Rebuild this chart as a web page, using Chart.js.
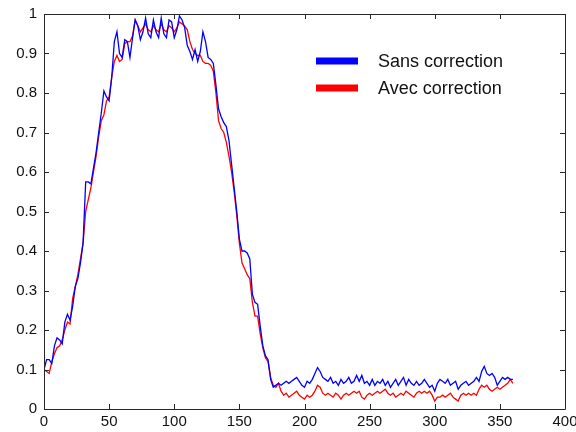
<!DOCTYPE html>
<html>
<head>
<meta charset="utf-8">
<script src="https://cdn.jsdelivr.net/npm/chart.js@4"></script>
<style>
  html, body { margin: 0; padding: 0; background: #fff; }
  #wrap { width: 576px; height: 432px; }
</style>
</head>
<body>
<div id="wrap"><canvas id="chart" width="576" height="432"></canvas></div>
<script>
// samples every 2 units, x = 0..360
const xStep = 2;
const sansCorrection = [
  0.10, 0.125, 0.125, 0.115, 0.16, 0.18, 0.175, 0.165, 0.22, 0.24,
  0.225, 0.26, 0.31, 0.33, 0.37, 0.42, 0.575, 0.575, 0.57, 0.61,
  0.65, 0.70, 0.75, 0.805, 0.79, 0.78, 0.84, 0.93, 0.955, 0.90,
  0.89, 0.935, 0.93, 0.89, 0.94, 0.985, 0.97, 0.935, 0.955, 0.99,
  0.95, 0.94, 0.985, 0.955, 0.94, 0.99, 0.95, 0.94, 0.985, 0.98,
  0.94, 0.96, 0.995, 0.985, 0.965, 0.92, 0.905, 0.885, 0.91, 0.88,
  0.905, 0.955, 0.93, 0.89, 0.885, 0.875, 0.82, 0.76, 0.74, 0.725,
  0.715, 0.68, 0.62, 0.56, 0.50, 0.43, 0.40, 0.40, 0.395, 0.38,
  0.29, 0.27, 0.265, 0.21, 0.16, 0.135, 0.125, 0.075, 0.055, 0.06,
  0.065, 0.06, 0.065, 0.07, 0.065, 0.07, 0.075, 0.08, 0.07, 0.06,
  0.055, 0.07, 0.065, 0.075, 0.09, 0.105, 0.095, 0.08, 0.075, 0.07,
  0.08, 0.065, 0.07, 0.06, 0.075, 0.065, 0.07, 0.08, 0.065, 0.07,
  0.085, 0.07, 0.085, 0.065, 0.07, 0.06, 0.075, 0.06, 0.07, 0.065,
  0.075, 0.06, 0.07, 0.055, 0.065, 0.075, 0.06, 0.07, 0.08, 0.06,
  0.075, 0.065, 0.06, 0.07, 0.06, 0.065, 0.075, 0.065, 0.055, 0.06,
  0.045, 0.065, 0.075, 0.07, 0.065, 0.075, 0.06, 0.065, 0.07, 0.05,
  0.06, 0.065, 0.07, 0.06, 0.065, 0.07, 0.08, 0.07, 0.095, 0.108,
  0.09, 0.085, 0.09, 0.08, 0.06, 0.07, 0.08, 0.075, 0.08, 0.075,
  0.075
];
const avecCorrection = [
  0.10, 0.095, 0.09, 0.12, 0.14, 0.155, 0.16, 0.175, 0.20, 0.22,
  0.215, 0.28, 0.31, 0.34, 0.38, 0.42, 0.50, 0.53, 0.56, 0.60,
  0.64, 0.69, 0.73, 0.745, 0.78, 0.79, 0.84, 0.88, 0.895, 0.88,
  0.885, 0.925, 0.93, 0.93, 0.945, 0.985, 0.97, 0.955, 0.965, 0.975,
  0.96, 0.955, 0.97, 0.96, 0.955, 0.975, 0.96, 0.955, 0.97, 0.965,
  0.955, 0.965, 0.98, 0.975, 0.97, 0.96, 0.93, 0.91, 0.90, 0.895,
  0.895, 0.88, 0.875, 0.875, 0.87, 0.855, 0.80, 0.73, 0.71, 0.70,
  0.675, 0.64, 0.60, 0.55, 0.49, 0.42, 0.37, 0.355, 0.34, 0.33,
  0.27, 0.235, 0.235, 0.19, 0.155, 0.13, 0.12, 0.08, 0.06, 0.055,
  0.065, 0.045, 0.035, 0.04, 0.03, 0.035, 0.04, 0.045, 0.035, 0.03,
  0.025, 0.035, 0.03, 0.035, 0.045, 0.06, 0.055, 0.04, 0.035, 0.04,
  0.035, 0.03, 0.04, 0.035, 0.025, 0.035, 0.04, 0.035, 0.04, 0.045,
  0.04, 0.045, 0.03, 0.025, 0.035, 0.04, 0.035, 0.04, 0.045, 0.04,
  0.045, 0.05, 0.04, 0.035, 0.04, 0.03, 0.035, 0.04, 0.035, 0.045,
  0.04, 0.035, 0.03, 0.04, 0.045, 0.04, 0.045, 0.04, 0.045, 0.035,
  0.02, 0.03, 0.03, 0.035, 0.03, 0.035, 0.04, 0.03, 0.025, 0.02,
  0.035, 0.04, 0.035, 0.04, 0.035, 0.04, 0.035, 0.05, 0.06, 0.055,
  0.06, 0.05, 0.045, 0.05, 0.055, 0.05, 0.055, 0.06, 0.065, 0.075,
  0.065
];
const xTicks = [0, 50, 100, 150, 200, 250, 300, 350, 400];
const yTicks = [0, 0.1, 0.2, 0.3, 0.4, 0.5, 0.6, 0.7, 0.8, 0.9, 1];
const seriesNames = ['Sans correction', 'Avec correction'];

const toPoints = arr => arr.map((v, i) => ({ x: i * xStep, y: v }));
const font = '"Liberation Sans", Arial, sans-serif';

// box + inward ticks, matlab style
const boxPlugin = {
  id: 'box',
  afterDraw(chart) {
    const { ctx, chartArea: a, scales } = chart;
    ctx.save();
    ctx.strokeStyle = '#262626';
    ctx.lineWidth = 1;
    ctx.beginPath();
    ctx.rect(Math.round(a.left) + 0.5, Math.round(a.top) + 0.5,
      Math.round(a.right - a.left), Math.round(a.bottom - a.top));
    ctx.stroke();
    ctx.beginPath();
    xTicks.forEach(t => {
      const px = Math.round(scales.x.getPixelForValue(t)) + 0.5;
      ctx.moveTo(px, a.bottom); ctx.lineTo(px, a.bottom - 5);
      ctx.moveTo(px, a.top); ctx.lineTo(px, a.top + 5);
    });
    yTicks.forEach(t => {
      const py = Math.round(scales.y.getPixelForValue(t)) + 0.5;
      ctx.moveTo(a.left, py); ctx.lineTo(a.left + 5, py);
      ctx.moveTo(a.right, py); ctx.lineTo(a.right - 5, py);
    });
    ctx.stroke();

    // legend inside the plot
    const colors = ['#0000ff', '#ff0000'];
    ctx.font = '18px ' + font;
    ctx.textBaseline = 'middle';
    seriesNames.forEach((name, i) => {
      const y = 61 + i * 27;
      ctx.fillStyle = colors[i];
      ctx.fillRect(316, y - 3.5, 42, 7);
      ctx.fillStyle = '#111';
      ctx.fillText(name, 378, y + 1);
    });
    ctx.restore();
  }
};

new Chart(document.getElementById('chart'), {
  type: 'line',
  data: {
    datasets: [
      {
        label: seriesNames[0],
        data: toPoints(sansCorrection),
        borderColor: '#0000ff',
        borderWidth: 1.3,
        pointRadius: 0,
        tension: 0,
      },
      {
        label: seriesNames[1],
        data: toPoints(avecCorrection),
        borderColor: '#ff0000',
        borderWidth: 1.3,
        pointRadius: 0,
        tension: 0,
      },
    ],
  },
  options: {
    responsive: false,
    animation: false,
    layout: { padding: { left: 0, right: 11, top: 14, bottom: 0 } },
    plugins: {
      legend: { display: false },
      tooltip: { enabled: false },
    },
    scales: {
      x: {
        type: 'linear',
        min: 0,
        max: 400,
        afterBuildTicks: scale => { scale.ticks = xTicks.map(v => ({ value: v })); },
        ticks: {
          color: '#111',
          font: { family: font, size: 15 },
          padding: 4,
          maxRotation: 0,
        },
        grid: { display: false, drawTicks: false },
        border: { display: false },
        afterFit: scale => {
          scale.height = 23;
          scale.paddingLeft = 0;
          scale.paddingRight = 0;
        },
      },
      y: {
        min: 0,
        max: 1,
        afterBuildTicks: scale => { scale.ticks = yTicks.map(v => ({ value: v })); },
        ticks: {
          color: '#111',
          font: { family: font, size: 15 },
          padding: 7,
          callback: v => String(+v.toFixed(1)),
        },
        grid: { display: false, drawTicks: false },
        border: { display: false },
        afterFit: scale => {
          scale.width = 44;
          scale.paddingTop = 0;
          scale.paddingBottom = 0;
        },
      },
    },
  },
  plugins: [boxPlugin],
});
</script>
</body>
</html>
